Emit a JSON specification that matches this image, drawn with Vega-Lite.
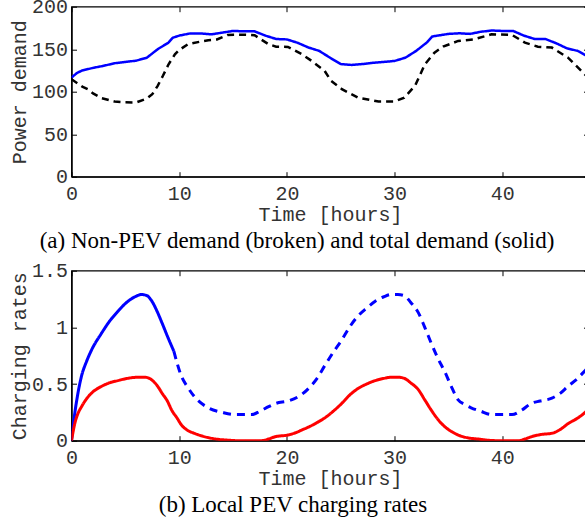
{
  "$schema": "https://vega.github.io/schema/vega-lite/v6.json",
  "autosize": {"type": "pad"},
  "padding": {"left": 7.5, "top": -4.3, "right": 0, "bottom": 0},
  "background": "white",
  "config": {
    "view": {"stroke": "black", "strokeWidth": 1.3},
    "axis": {
      "labelFont": "Liberation Mono", "labelFontSize": 20, "labelColor": "#333",
      "titleFont": "Liberation Mono", "titleFontSize": 20, "titleFontWeight": "normal", "titleColor": "#333",
      "grid": false, "domainColor": "black", "domainWidth": 1.3,
      "tickColor": "black", "tickSize": -5, "tickWidth": 1, "labelFlush": false
    }
  },
  "resolve": {"scale": {"color": "independent", "strokeDash": "independent"}},
  "datasets": {
    "demand": [
      {"t": 0, "v": 116.6, "s": "total"}, {"t": 0.5, "v": 122, "s": "total"}, {"t": 1, "v": 125, "s": "total"},
      {"t": 2, "v": 128, "s": "total"}, {"t": 3, "v": 130.5, "s": "total"}, {"t": 4, "v": 133.5, "s": "total"},
      {"t": 5, "v": 135, "s": "total"}, {"t": 6, "v": 136.5, "s": "total"}, {"t": 7, "v": 140, "s": "total"},
      {"t": 8, "v": 150, "s": "total"}, {"t": 9, "v": 157.7, "s": "total"}, {"t": 9.4, "v": 163.5, "s": "total"},
      {"t": 10, "v": 166, "s": "total"}, {"t": 11, "v": 168.5, "s": "total"}, {"t": 12, "v": 168.5, "s": "total"},
      {"t": 13, "v": 167.5, "s": "total"}, {"t": 14, "v": 169.5, "s": "total"}, {"t": 15, "v": 171.5, "s": "total"},
      {"t": 16, "v": 171, "s": "total"}, {"t": 17, "v": 171, "s": "total"}, {"t": 18, "v": 166, "s": "total"},
      {"t": 19, "v": 162, "s": "total"}, {"t": 20, "v": 161.5, "s": "total"}, {"t": 21, "v": 157.5, "s": "total"},
      {"t": 22, "v": 152, "s": "total"}, {"t": 23, "v": 148, "s": "total"}, {"t": 24, "v": 140, "s": "total"},
      {"t": 25, "v": 132.5, "s": "total"}, {"t": 26, "v": 131.5, "s": "total"}, {"t": 27, "v": 132.5, "s": "total"},
      {"t": 28, "v": 134, "s": "total"}, {"t": 29, "v": 135, "s": "total"}, {"t": 30, "v": 136.2, "s": "total"},
      {"t": 31, "v": 140, "s": "total"}, {"t": 32, "v": 148, "s": "total"}, {"t": 33, "v": 158, "s": "total"},
      {"t": 33.5, "v": 165, "s": "total"}, {"t": 34, "v": 166, "s": "total"}, {"t": 35, "v": 168, "s": "total"},
      {"t": 36, "v": 168.7, "s": "total"}, {"t": 37, "v": 168, "s": "total"}, {"t": 38, "v": 170.5, "s": "total"},
      {"t": 39, "v": 172, "s": "total"}, {"t": 40, "v": 171.5, "s": "total"}, {"t": 41, "v": 171.5, "s": "total"},
      {"t": 42, "v": 166, "s": "total"}, {"t": 43, "v": 162, "s": "total"}, {"t": 44, "v": 162, "s": "total"},
      {"t": 45, "v": 157, "s": "total"}, {"t": 46, "v": 151, "s": "total"}, {"t": 47, "v": 148, "s": "total"},
      {"t": 48, "v": 141, "s": "total"},
      {"t": 0, "v": 114.7, "s": "nonpev"}, {"t": 1, "v": 106, "s": "nonpev"}, {"t": 1.5, "v": 103, "s": "nonpev"},
      {"t": 2, "v": 98, "s": "nonpev"}, {"t": 2.8, "v": 92.4, "s": "nonpev"}, {"t": 4, "v": 88.5, "s": "nonpev"},
      {"t": 5, "v": 87.5, "s": "nonpev"}, {"t": 6, "v": 87.3, "s": "nonpev"}, {"t": 7, "v": 92, "s": "nonpev"},
      {"t": 7.5, "v": 97, "s": "nonpev"}, {"t": 8, "v": 106.9, "s": "nonpev"}, {"t": 8.5, "v": 119, "s": "nonpev"},
      {"t": 9, "v": 132, "s": "nonpev"}, {"t": 9.6, "v": 144, "s": "nonpev"}, {"t": 10, "v": 149, "s": "nonpev"},
      {"t": 10.8, "v": 155.8, "s": "nonpev"}, {"t": 12, "v": 159, "s": "nonpev"}, {"t": 12.7, "v": 160.5, "s": "nonpev"},
      {"t": 13.5, "v": 161.5, "s": "nonpev"}, {"t": 14.5, "v": 166.8, "s": "nonpev"}, {"t": 16, "v": 167, "s": "nonpev"},
      {"t": 17, "v": 166.4, "s": "nonpev"}, {"t": 18.3, "v": 155.8, "s": "nonpev"}, {"t": 19, "v": 153, "s": "nonpev"},
      {"t": 20.1, "v": 152.7, "s": "nonpev"}, {"t": 21.4, "v": 144, "s": "nonpev"}, {"t": 22.3, "v": 136.2, "s": "nonpev"},
      {"t": 23.5, "v": 124.5, "s": "nonpev"}, {"t": 24.1, "v": 112.7, "s": "nonpev"}, {"t": 25.1, "v": 103, "s": "nonpev"},
      {"t": 26.6, "v": 93.1, "s": "nonpev"}, {"t": 28.5, "v": 88.5, "s": "nonpev"}, {"t": 30, "v": 88.5, "s": "nonpev"},
      {"t": 30.9, "v": 93, "s": "nonpev"}, {"t": 31.9, "v": 107, "s": "nonpev"}, {"t": 32.8, "v": 132, "s": "nonpev"},
      {"t": 33.7, "v": 146, "s": "nonpev"}, {"t": 34.5, "v": 153, "s": "nonpev"}, {"t": 35.9, "v": 159.7, "s": "nonpev"},
      {"t": 37.4, "v": 161.7, "s": "nonpev"}, {"t": 39, "v": 167.6, "s": "nonpev"}, {"t": 40.9, "v": 166.8, "s": "nonpev"},
      {"t": 42.1, "v": 157.7, "s": "nonpev"}, {"t": 43.3, "v": 153, "s": "nonpev"}, {"t": 44.6, "v": 151.9, "s": "nonpev"},
      {"t": 46.1, "v": 140, "s": "nonpev"}, {"t": 47.8, "v": 118.6, "s": "nonpev"}, {"t": 48, "v": 116, "s": "nonpev"}
    ],
    "rates": [
      {"t": 0, "v": 0, "s": "blue_solid"}, {"t": 0.15, "v": 0.13, "s": "blue_solid"}, {"t": 0.3, "v": 0.24, "s": "blue_solid"},
      {"t": 0.6, "v": 0.42, "s": "blue_solid"}, {"t": 0.93, "v": 0.57, "s": "blue_solid"}, {"t": 1.4, "v": 0.7, "s": "blue_solid"},
      {"t": 1.86, "v": 0.8, "s": "blue_solid"}, {"t": 2.8, "v": 0.95, "s": "blue_solid"}, {"t": 3.5, "v": 1.05, "s": "blue_solid"},
      {"t": 4.3, "v": 1.14, "s": "blue_solid"}, {"t": 5, "v": 1.21, "s": "blue_solid"}, {"t": 5.9, "v": 1.27, "s": "blue_solid"},
      {"t": 6.5, "v": 1.29, "s": "blue_solid"}, {"t": 7, "v": 1.28, "s": "blue_solid"}, {"t": 7.4, "v": 1.24, "s": "blue_solid"},
      {"t": 8, "v": 1.13, "s": "blue_solid"}, {"t": 8.4, "v": 1.04, "s": "blue_solid"}, {"t": 9, "v": 0.9, "s": "blue_solid"},
      {"t": 9.5, "v": 0.79, "s": "blue_solid"},
      {"t": 9.5, "v": 0.79, "s": "blue_dash"}, {"t": 10.2, "v": 0.57, "s": "blue_dash"}, {"t": 10.8, "v": 0.47, "s": "blue_dash"},
      {"t": 11.4, "v": 0.39, "s": "blue_dash"}, {"t": 12.7, "v": 0.29, "s": "blue_dash"}, {"t": 14, "v": 0.25, "s": "blue_dash"},
      {"t": 15.2, "v": 0.23, "s": "blue_dash"}, {"t": 16.7, "v": 0.23, "s": "blue_dash"}, {"t": 17.5, "v": 0.26, "s": "blue_dash"},
      {"t": 18.3, "v": 0.3, "s": "blue_dash"}, {"t": 19, "v": 0.33, "s": "blue_dash"}, {"t": 20.1, "v": 0.35, "s": "blue_dash"},
      {"t": 21.4, "v": 0.41, "s": "blue_dash"}, {"t": 22, "v": 0.46, "s": "blue_dash"}, {"t": 22.8, "v": 0.55, "s": "blue_dash"},
      {"t": 23.5, "v": 0.66, "s": "blue_dash"}, {"t": 24.3, "v": 0.78, "s": "blue_dash"}, {"t": 25.1, "v": 0.89, "s": "blue_dash"},
      {"t": 25.8, "v": 1.0, "s": "blue_dash"}, {"t": 26.6, "v": 1.1, "s": "blue_dash"}, {"t": 27.4, "v": 1.17, "s": "blue_dash"},
      {"t": 28.2, "v": 1.23, "s": "blue_dash"}, {"t": 29, "v": 1.27, "s": "blue_dash"}, {"t": 29.7, "v": 1.29, "s": "blue_dash"},
      {"t": 30.3, "v": 1.29, "s": "blue_dash"}, {"t": 30.9, "v": 1.28, "s": "blue_dash"}, {"t": 31.5, "v": 1.22, "s": "blue_dash"},
      {"t": 32.2, "v": 1.13, "s": "blue_dash"}, {"t": 32.8, "v": 1.0, "s": "blue_dash"}, {"t": 33.4, "v": 0.86, "s": "blue_dash"},
      {"t": 34, "v": 0.73, "s": "blue_dash"}, {"t": 34.7, "v": 0.6, "s": "blue_dash"}, {"t": 35.3, "v": 0.47, "s": "blue_dash"},
      {"t": 35.9, "v": 0.36, "s": "blue_dash"}, {"t": 36.5, "v": 0.32, "s": "blue_dash"}, {"t": 37.1, "v": 0.29, "s": "blue_dash"},
      {"t": 38, "v": 0.26, "s": "blue_dash"}, {"t": 39, "v": 0.23, "s": "blue_dash"}, {"t": 40.9, "v": 0.23, "s": "blue_dash"},
      {"t": 41.8, "v": 0.27, "s": "blue_dash"}, {"t": 42.7, "v": 0.33, "s": "blue_dash"}, {"t": 43.5, "v": 0.35, "s": "blue_dash"},
      {"t": 44.6, "v": 0.375, "s": "blue_dash"}, {"t": 45.4, "v": 0.42, "s": "blue_dash"}, {"t": 46.1, "v": 0.48, "s": "blue_dash"},
      {"t": 47, "v": 0.55, "s": "blue_dash"}, {"t": 47.8, "v": 0.63, "s": "blue_dash"}, {"t": 48, "v": 0.65, "s": "blue_dash"},
      {"t": 0, "v": 0, "s": "red"}, {"t": 0.15, "v": 0.08, "s": "red"}, {"t": 0.3, "v": 0.15, "s": "red"},
      {"t": 0.6, "v": 0.24, "s": "red"}, {"t": 0.93, "v": 0.3, "s": "red"}, {"t": 1.4, "v": 0.37, "s": "red"},
      {"t": 1.86, "v": 0.42, "s": "red"}, {"t": 2.8, "v": 0.48, "s": "red"}, {"t": 3.5, "v": 0.51, "s": "red"},
      {"t": 4.3, "v": 0.53, "s": "red"}, {"t": 5.2, "v": 0.55, "s": "red"}, {"t": 6.2, "v": 0.56, "s": "red"},
      {"t": 6.8, "v": 0.56, "s": "red"}, {"t": 7.4, "v": 0.54, "s": "red"}, {"t": 8, "v": 0.48, "s": "red"},
      {"t": 8.4, "v": 0.42, "s": "red"}, {"t": 8.9, "v": 0.35, "s": "red"}, {"t": 9.3, "v": 0.27, "s": "red"},
      {"t": 9.8, "v": 0.2, "s": "red"}, {"t": 10.2, "v": 0.14, "s": "red"}, {"t": 10.8, "v": 0.09, "s": "red"},
      {"t": 11.4, "v": 0.065, "s": "red"}, {"t": 12.7, "v": 0.027, "s": "red"}, {"t": 13.6, "v": 0.012, "s": "red"},
      {"t": 14.5, "v": 0.005, "s": "red"}, {"t": 15.5, "v": 0, "s": "red"}, {"t": 17.6, "v": 0, "s": "red"},
      {"t": 18.3, "v": 0.015, "s": "red"}, {"t": 18.9, "v": 0.035, "s": "red"}, {"t": 20.1, "v": 0.05, "s": "red"},
      {"t": 20.8, "v": 0.07, "s": "red"}, {"t": 21.4, "v": 0.095, "s": "red"}, {"t": 22, "v": 0.12, "s": "red"},
      {"t": 22.8, "v": 0.16, "s": "red"}, {"t": 23.5, "v": 0.2, "s": "red"}, {"t": 24.3, "v": 0.26, "s": "red"},
      {"t": 25.1, "v": 0.33, "s": "red"}, {"t": 25.8, "v": 0.4, "s": "red"}, {"t": 26.6, "v": 0.46, "s": "red"},
      {"t": 27.4, "v": 0.5, "s": "red"}, {"t": 28.2, "v": 0.53, "s": "red"}, {"t": 29, "v": 0.55, "s": "red"},
      {"t": 29.7, "v": 0.56, "s": "red"}, {"t": 30.3, "v": 0.56, "s": "red"}, {"t": 30.9, "v": 0.55, "s": "red"},
      {"t": 31.5, "v": 0.51, "s": "red"}, {"t": 32.2, "v": 0.45, "s": "red"}, {"t": 32.8, "v": 0.36, "s": "red"},
      {"t": 33.4, "v": 0.27, "s": "red"}, {"t": 34, "v": 0.19, "s": "red"}, {"t": 34.7, "v": 0.12, "s": "red"},
      {"t": 35.3, "v": 0.08, "s": "red"}, {"t": 35.9, "v": 0.05, "s": "red"}, {"t": 36.8, "v": 0.025, "s": "red"},
      {"t": 37.7, "v": 0.015, "s": "red"}, {"t": 38.6, "v": 0.005, "s": "red"}, {"t": 39.6, "v": 0, "s": "red"},
      {"t": 41.5, "v": 0, "s": "red"}, {"t": 42.1, "v": 0.015, "s": "red"}, {"t": 42.7, "v": 0.035, "s": "red"},
      {"t": 43.6, "v": 0.055, "s": "red"}, {"t": 44.6, "v": 0.065, "s": "red"}, {"t": 45.4, "v": 0.1, "s": "red"},
      {"t": 46.1, "v": 0.15, "s": "red"}, {"t": 47, "v": 0.2, "s": "red"}, {"t": 47.8, "v": 0.26, "s": "red"},
      {"t": 48, "v": 0.28, "s": "red"}
    ]
  },
  "spacing": 94,
  "bounds": "flush",
  "vconcat": [
    {
      "width": 517, "height": 170,
      "title": {"text": "(a) Non-PEV demand (broken) and total demand (solid)", "orient": "bottom", "anchor": "middle", "font": "Liberation Serif", "fontSize": 23, "fontWeight": "normal", "color": "black", "dx": -33, "offset": 6},
      "data": {"name": "demand"},
      "layer": [
        {
          "mark": {"type": "line", "strokeWidth": 2.5, "clip": true},
          "encoding": {
            "x": {"field": "t", "type": "quantitative", "scale": {"domain": [0, 48], "nice": false, "zero": false},
                  "axis": {"orient": "bottom", "values": [0, 10, 20, 30, 40], "title": "Time [hours]", "labelPadding": 11.5, "titlePadding": 1}},
            "y": {"field": "v", "type": "quantitative", "scale": {"domain": [0, 200], "nice": false},
                  "axis": {"orient": "left", "values": [0, 50, 100, 150, 200], "title": "Power demand", "labelPadding": 9, "titlePadding": 2.5}},
            "color": {"field": "s", "type": "nominal", "scale": {"domain": ["nonpev", "total"], "range": ["black", "#0000ff"]}, "legend": null},
            "strokeDash": {"field": "s", "type": "nominal", "scale": {"domain": ["nonpev", "total"], "range": [[7, 5], [1, 0]]}, "legend": null}
          }
        },
        {
          "mark": {"type": "line", "opacity": 0},
          "encoding": {
            "x": {"field": "t", "type": "quantitative", "axis": {"orient": "top", "values": [0, 10, 20, 30, 40], "labels": false, "title": null, "domain": false}},
            "y": {"field": "v", "type": "quantitative", "axis": {"orient": "right", "values": [0, 50, 100, 150, 200], "labels": false, "title": null, "domain": false}},
            "detail": {"field": "s"}
          }
        }
      ],
      "resolve": {"axis": {"x": "independent", "y": "independent"}}
    },
    {
      "width": 517, "height": 170,
      "title": {"text": "(b) Local PEV charging rates", "orient": "bottom", "anchor": "middle", "font": "Liberation Serif", "fontSize": 23, "fontWeight": "normal", "color": "black", "dx": -37, "offset": 6},
      "data": {"name": "rates"},
      "layer": [
        {
          "mark": {"type": "line", "strokeWidth": 3, "clip": true, "interpolate": "monotone"},
          "encoding": {
            "x": {"field": "t", "type": "quantitative", "scale": {"domain": [0, 48], "nice": false, "zero": false},
                  "axis": {"orient": "bottom", "values": [0, 10, 20, 30, 40], "title": "Time [hours]", "labelPadding": 11.5, "titlePadding": 1}},
            "y": {"field": "v", "type": "quantitative", "scale": {"domain": [0, 1.5], "nice": false},
                  "axis": {"orient": "left", "values": [0, 0.5, 1, 1.5], "format": "~g", "title": "Charging rates", "labelPadding": 9, "titlePadding": 2.5}},
            "color": {"field": "s", "type": "nominal", "scale": {"domain": ["blue_solid", "blue_dash", "red"], "range": ["#0000ff", "#0000ff", "#ff0000"]}, "legend": null},
            "strokeDash": {"field": "s", "type": "nominal", "scale": {"domain": ["blue_solid", "blue_dash", "red"], "range": [[1, 0], [8, 6], [1, 0]]}, "legend": null}
          }
        },
        {
          "mark": {"type": "line", "opacity": 0},
          "encoding": {
            "x": {"field": "t", "type": "quantitative", "axis": {"orient": "top", "values": [0, 10, 20, 30, 40], "labels": false, "title": null, "domain": false}},
            "y": {"field": "v", "type": "quantitative", "axis": {"orient": "right", "values": [0, 0.5, 1, 1.5], "labels": false, "title": null, "domain": false}},
            "detail": {"field": "s"}
          }
        }
      ],
      "resolve": {"axis": {"x": "independent", "y": "independent"}}
    }
  ]
}
